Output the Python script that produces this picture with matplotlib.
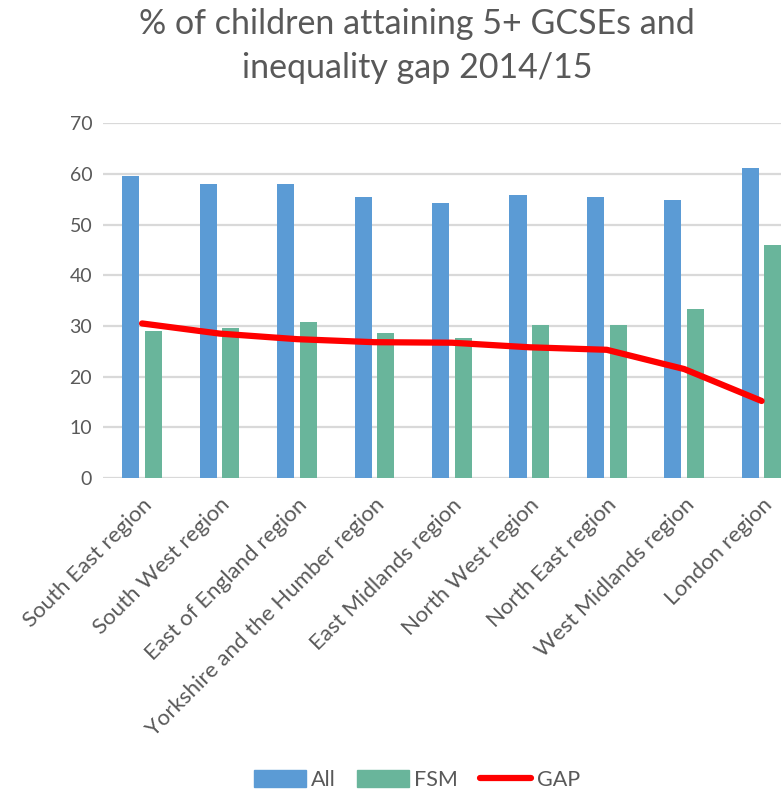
import numpy as np
import matplotlib.pyplot as plt
from matplotlib.patches import Patch
from matplotlib.lines import Line2D

plt.rcParams['font.family'] = ['Lato', 'DejaVu Sans']

regions = ["South East region", "South West region", "East of England region",
           "Yorkshire and the Humber region", "East Midlands region",
           "North West region", "North East region", "West Midlands region",
           "London region"]
all_pupils = [59.6, 58.1, 58.1, 55.4, 54.3, 55.9, 55.4, 54.8, 61.1]
fsm = [29.1, 29.6, 30.7, 28.6, 27.6, 30.1, 30.1, 33.3, 45.9]
gap = [30.5, 28.5, 27.4, 26.8, 26.7, 25.8, 25.3, 21.5, 15.2]

grey = "#595959"
blue = "#5B9BD5"
green = "#69B59B"

fig = plt.figure(figsize=(7.81, 7.96), dpi=100)
ax = fig.add_axes([0.1323, 0.3995, 0.8925, 0.4456])

x = np.arange(len(regions))
w = 0.22
ax.bar(x - 0.146, all_pupils, w, color=blue, zorder=2)
ax.bar(x + 0.146, fsm, w, color=green, zorder=2)
ax.plot(x, gap, color="red", lw=4.5, solid_capstyle="round", zorder=3)

ax.set_xlim(-0.5, len(regions) - 0.5)
ax.set_ylim(0, 70)
ax.set_yticks(range(0, 71, 10))
ax.yaxis.grid(True, color="#d9d9d9", lw=1.6, zorder=0)
ax.set_axisbelow(True)
for s in ax.spines.values():
    s.set_visible(False)
ax.tick_params(length=0, labelsize=14, labelcolor=grey, pad=8)
ax.set_xticks(x)
ax.set_xticklabels(regions, rotation=45, ha="right", va="top",
                   rotation_mode="anchor", fontsize=16)
ax.tick_params(axis="x", pad=12)

fig.text(417 / 781, 1 - 46 / 796, "% of children attaining 5+ GCSEs and\ninequality gap 2014/15",
         ha="center", va="center", fontsize=24.5, color=grey, linespacing=1.45)

handles = [Patch(color=blue, label="All"), Patch(color=green, label="FSM"),
           Line2D([], [], color="red", lw=4.5, solid_capstyle="round", label="GAP")]
fig.legend(handles=handles, loc="center", bbox_to_anchor=(417 / 781, 16 / 796),
           ncol=3, frameon=False, fontsize=15.5, labelcolor=grey,
           handlelength=2.4, handleheight=0.8, handletextpad=0.25, columnspacing=1.0)

fig.savefig("out.png", dpi=100)
